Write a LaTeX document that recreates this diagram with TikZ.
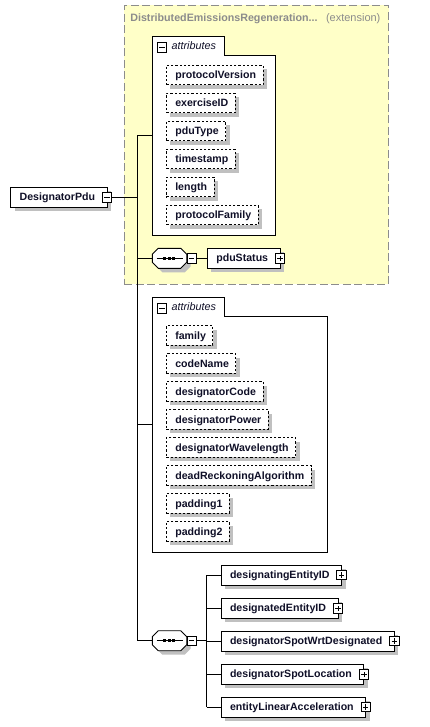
\documentclass[tikz,border=0pt]{standalone}
\usepackage{fontspec}
\setmainfont{Liberation Sans}
\usetikzlibrary{shadows,calc}
\definecolor{shd}{HTML}{C0C0C0}
\definecolor{extfill}{HTML}{FFFFC8}
\definecolor{extdraw}{HTML}{8C8C8C}
\definecolor{txt}{HTML}{101028}
\newcommand\seqoct[1]{%
  \begin{scope}[shift={(#1.north west)}]
    \fill[shd] (10,4) -- (32.4,4) -- (38.4,10) -- (38.4,18) -- (32.4,24) -- (10,24) -- (4,18) -- (4,10) -- cycle;
    \draw[fill=white] (6,0) -- (28.4,0) -- (34.4,6) -- (34.4,14) -- (28.4,20) -- (6,20) -- (0,14) -- (0,6) -- cycle;
    \draw (4.4,10) -- (31,10);
    \fill (11,8.5) rectangle ++(3,3);
    \fill (15.5,8.5) rectangle ++(3,3);
    \fill (20,8.5) rectangle ++(3,3);
  \end{scope}}
\begin{document}
\begin{tikzpicture}[x=1pt,y=-1pt,line width=0.9pt,
  every node/.style={inner sep=0pt, outer sep=0pt},
  shdw/.style={drop shadow={shadow xshift=4pt, shadow yshift=-4pt, fill=shd, opacity=1}},
  fnt/.style={font=\bfseries\fontsize{10.6}{12}\selectfont, text=txt},
  attritem/.style={draw, dash pattern=on 2.2pt off 2pt, fill=white, shdw, fnt, anchor=north west,
    minimum height=19.5pt, text height=8.6pt, text depth=1.4pt,
    execute at begin node=\hspace*{9pt}, execute at end node=\hspace*{7pt}},
  elem/.style={draw, fill=white, shdw, fnt, anchor=north west,
    minimum height=20pt, text height=8.6pt, text depth=1.4pt,
    execute at begin node=\hspace*{9pt}, execute at end node=\hspace*{12pt}},
  minusbox/.style={draw, fill=white, minimum size=9.5pt, line width=0.8pt,
    path picture={\draw[line width=0.8pt] ([xshift=2pt]path picture bounding box.west) -- ([xshift=-2pt]path picture bounding box.east);}},
  plusbox/.style={draw, fill=white, minimum size=9.5pt, line width=0.8pt,
    path picture={\draw[line width=0.8pt] ([xshift=2pt]path picture bounding box.west) -- ([xshift=-2pt]path picture bounding box.east)
      ([yshift=2pt]path picture bounding box.south) -- ([yshift=-2pt]path picture bounding box.north);}},
  grp/.style={anchor=north west},
  seqn/.style={anchor=north west, minimum width=34.4pt, minimum height=20pt},
  attrlbl/.style={anchor=west, font=\itshape\fontsize{10.8}{12}\selectfont, text=txt, text height=7.8pt, text depth=2.2pt},
  ttl/.style={anchor=west, text=extdraw, text height=7.8pt, text depth=2.2pt},
]
\useasboundingbox (0,0) rectangle (430,727);

% extension box
\node[anchor=north west, draw=extdraw, fill=extfill, dash pattern=on 8pt off 3.5pt, line width=0.9pt,
  minimum width=264.4pt, minimum height=279pt] (ext) at (124.3,5.3) {};
\node[ttl, font=\bfseries\fontsize{10.7}{12}\selectfont] (title) at (130.3,18.5) {DistributedEmissionsRegeneration...};
\node[ttl, font=\fontsize{11}{12}\selectfont] (extlbl) at (326,18.5) {(extension)};

% attribute group 1
\node[grp, minimum width=123pt, minimum height=199pt] (attrA) at (152.3,36.3) {};
\draw[fill=white] (attrA.north west) -- ++(72,0) -- ++(0,18.7) -| (attrA.south east) -- (attrA.south west) -- cycle;
\node[minusbox] (amA) at (162,47.5) {};
\node[attrlbl] (alA) at (171.5,47) {attributes};
\node[attritem] (a1) at (166.3,65.3) {protocolVersion};
\node[attritem] (a2) at (166.3,93.3) {exerciseID};
\node[attritem] (a3) at (166.3,121.3) {pduType};
\node[attritem] (a4) at (166.3,149.3) {timestamp};
\node[attritem] (a5) at (166.3,177.3) {length};
\node[attritem] (a6) at (166.3,205.3) {protocolFamily};

% attribute group 2
\node[grp, minimum width=175pt, minimum height=254.7pt] (attrB) at (152.3,297.3) {};
\draw[fill=white] (attrB.north west) -- ++(72,0) -- ++(0,18.7) -| (attrB.south east) -- (attrB.south west) -- cycle;
\node[minusbox] (amB) at (162,308.5) {};
\node[attrlbl] (alB) at (171.5,308) {attributes};
\node[attritem] (b1) at (166.3,325.7) {family};
\node[attritem] (b2) at (166.3,353.7) {codeName};
\node[attritem] (b3) at (166.3,381.7) {designatorCode};
\node[attritem] (b4) at (166.3,409.7) {designatorPower};
\node[attritem] (b5) at (166.3,437.7) {designatorWavelength};
\node[attritem] (b6) at (166.3,465.7) {deadReckoningAlgorithm};
\node[attritem] (b7) at (166.3,493.7) {padding1};
\node[attritem] (b8) at (166.3,521.7) {padding2};

% root element
\node[elem] (root) at (10.7,187.3) {DesignatorPdu};
\node[minusbox] (rm) at (root.east) {};

% sequence 1
\node[seqn] (seq1) at (152.3,248.3) {};
\seqoct{seq1}
\node[minusbox] (sm1) at (191.7,258.3) {};
\node[elem] (pdu) at (207.3,248.3) {pduStatus};
\node[plusbox] (pp) at (pdu.east) {};

% sequence 2
\node[seqn] (seq2) at (152.3,630.7) {};
\seqoct{seq2}
\node[minusbox] (sm2) at (191.7,640.7) {};
\node[elem] (e1) at (221,565) {designatingEntityID};
\node[plusbox] (p1) at (e1.east) {};
\node[elem] (e2) at (221,598.3) {designatedEntityID};
\node[plusbox] (p2) at (e2.east) {};
\node[elem] (e3) at (221,631) {designatorSpotWrtDesignated};
\node[plusbox] (p3) at (e3.east) {};
\node[elem] (e4) at (221,664.3) {designatorSpotLocation};
\node[plusbox] (p4) at (e4.east) {};
\node[elem] (e5) at (221,697) {entityLinearAcceleration};
\node[plusbox] (p5) at (e5.east) {};

% connectors
\coordinate (bx) at (137,0);
\coordinate (by) at (206.7,0);
\draw (rm.east) -- (rm.east -| bx);
\draw (attrA.west) -- (attrA.west -| bx) -- (seq2.west -| bx) -- (seq2.west);
\draw (seq1.west -| bx) -- (seq1.west);
\draw (attrB.west -| bx) -- (attrB.west);
\draw (sm1.east) -- (pdu.west);
\draw (sm2.east) -- (sm2.east -| by);
\draw (e1.west -| by) -- (e5.west -| by);
\foreach \e in {e1,e2,e3,e4,e5} \draw (\e.west -| by) -- (\e.west);
\end{tikzpicture}
\end{document}
